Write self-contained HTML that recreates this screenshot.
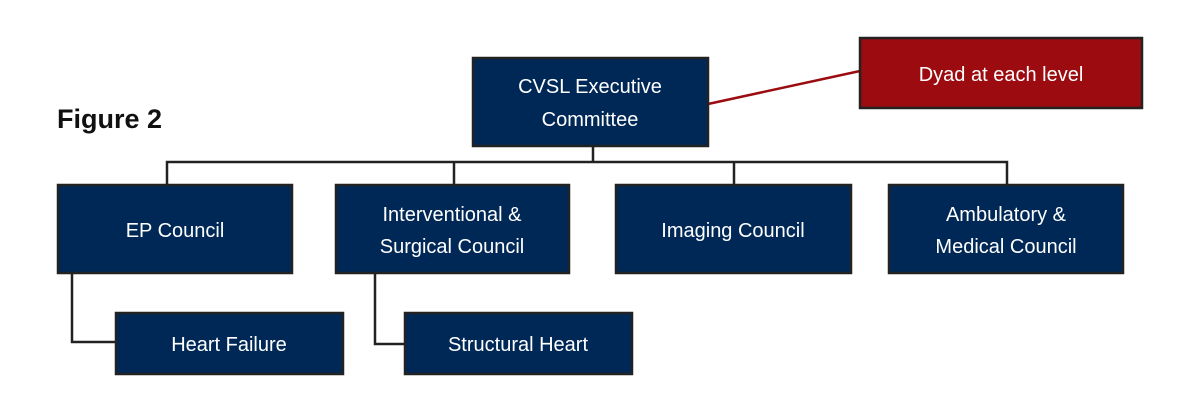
<!DOCTYPE html>
<html><head><meta charset="utf-8"><style>
html,body{margin:0;padding:0;background:#fff;}
svg{display:block;}
text{font-family:"Liberation Sans",sans-serif;}
.b{fill:#002856;stroke:#222;stroke-width:2.5;}
.t{fill:#fff;font-size:20px;text-anchor:middle;}
.l{stroke:#222;stroke-width:2.5;fill:none;}
</style></head><body>
<svg width="1200" height="411" viewBox="0 0 1200 411" xmlns="http://www.w3.org/2000/svg">
<text x="57" y="128" font-size="27" font-weight="bold" fill="#111">Figure 2</text>
<polyline class="l" points="593,146 593,162"/>
<polyline class="l" points="167,185 167,162 1007,162 1007,185"/>
<line class="l" x1="454" y1="162" x2="454" y2="185"/>
<line class="l" x1="734" y1="162" x2="734" y2="185"/>
<polyline class="l" points="72,273 72,342 116,342"/>
<polyline class="l" points="375,273 375,344 405,344"/>
<line x1="708" y1="104" x2="860" y2="71" stroke="#9b0b0f" stroke-width="2.5"/>
<rect class="b" x="473" y="58" width="235" height="88"/>
<text class="t" x="590" y="93">CVSL Executive</text>
<text class="t" x="590" y="126">Committee</text>
<rect x="860" y="38" width="282" height="70" fill="#9b0b0f" stroke="#222" stroke-width="2.5"/>
<text class="t" x="1001" y="81">Dyad at each level</text>
<rect class="b" x="58" y="185" width="234" height="88"/>
<text class="t" x="175" y="237">EP Council</text>
<rect class="b" x="336" y="185" width="233" height="88"/>
<text class="t" x="452" y="221">Interventional &amp;</text>
<text class="t" x="452" y="253">Surgical Council</text>
<rect class="b" x="616" y="185" width="235" height="88"/>
<text class="t" x="733" y="237">Imaging Council</text>
<rect class="b" x="889" y="185" width="234" height="88"/>
<text class="t" x="1006" y="221">Ambulatory &amp;</text>
<text class="t" x="1006" y="253">Medical Council</text>
<rect class="b" x="116" y="313" width="227" height="61"/>
<text class="t" x="229" y="351">Heart Failure</text>
<rect class="b" x="405" y="313" width="227" height="61"/>
<text class="t" x="518" y="351">Structural Heart</text>
</svg>
</body></html>
